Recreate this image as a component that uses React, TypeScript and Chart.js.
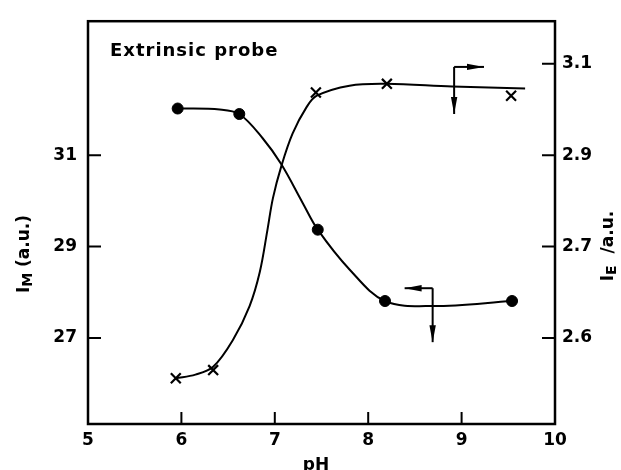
import React, { useEffect, useRef } from "react";
import { Chart, registerables } from "chart.js";

Chart.register(...registerables);

// ---- tick labels ----
const X_TICKS = [5, 6, 7, 8, 9, 10];
const IM_TICKS = [27, 29, 31];
const IE_TICKS = [2.5, 2.7, 2.9, 3.1];
const IE_TICK_LABELS = ["2.6", "2.7", "2.9", "3.1"];

// ---- I_M (filled circles, left axis) ----
const IM_PH = [5.96, 6.62, 7.46, 8.18, 9.54];
const IM_VALUES = [32.02, 31.9, 29.37, 27.81, 27.81];
const IM_FIT_PH = [5.96, 6.41, 6.62, 6.87, 7.07, 7.3, 7.46, 7.8, 8.18, 8.7, 9.54];
const IM_FIT = [32.02, 32.0, 31.9, 31.37, 30.8, 29.95, 29.37, 28.5, 27.81, 27.7, 27.81];

// ---- I_E (crosses, right axis) ----
const IE_PH = [5.94, 6.34, 7.44, 8.2, 9.53];
const IE_VALUES = [2.412, 2.43, 3.037, 3.056, 3.03];
const IE_FIT_PH = [5.94, 6.15, 6.34, 6.55, 6.73, 6.84, 6.92, 6.98, 7.07, 7.19, 7.34, 7.45, 7.8, 8.2, 8.9, 9.68];
const IE_FIT = [2.412, 2.42, 2.437, 2.495, 2.57, 2.645, 2.735, 2.806, 2.876, 2.947, 3.005, 3.03, 3.052, 3.056, 3.05, 3.046];

// ---- axis ranges ----
const X_MIN = 5;
const X_MAX = 10;
const IM_MIN = 25.12;
const IM_MAX = 33.93;
const IE_MIN = 2.312;
const IE_MAX = 3.193;

// ---- indicator arrows (data units) ----
const IM_ARROW = { ph: 8.69, value: 28.09, downTo: 26.91, sideTo: 8.39 };
const IE_ARROW = { ph: 8.92, value: 3.093, downTo: 2.99, sideTo: 9.24 };

const FONT = "DejaVu Sans";

function toXY(xs: number[], ys: number[]) {
  return xs.map((x, i) => ({ x, y: ys[i] }));
}

function arrowHead(ctx: CanvasRenderingContext2D, x1: number, y1: number, x2: number, y2: number) {
  const ang = Math.atan2(y2 - y1, x2 - x1);
  const len = 17;
  const w = 3.2;
  ctx.save();
  ctx.translate(x2, y2);
  ctx.rotate(ang);
  ctx.beginPath();
  ctx.moveTo(0, 0);
  ctx.lineTo(-len, -w);
  ctx.lineTo(-len, w);
  ctx.closePath();
  ctx.fill();
  ctx.restore();
}

function drawArrow(ctx: CanvasRenderingContext2D, x1: number, y1: number, x2: number, y2: number) {
  ctx.beginPath();
  ctx.moveTo(x1, y1);
  ctx.lineTo(x2, y2);
  ctx.stroke();
  arrowHead(ctx, x1, y1, x2, y2);
}

type Part = { t: string; size: number; dy?: number };

function drawParts(ctx: CanvasRenderingContext2D, parts: Part[]) {
  let total = 0;
  const widths = parts.map((p) => {
    ctx.font = `bold ${p.size}px "${FONT}"`;
    const w = ctx.measureText(p.t).width;
    total += w;
    return w;
  });
  let x = -total / 2;
  parts.forEach((p, i) => {
    ctx.font = `bold ${p.size}px "${FONT}"`;
    ctx.fillText(p.t, x, p.dy || 0);
    x += widths[i];
  });
}

const decor = {
  id: "decor",
  afterDraw(chart: any) {
    const { ctx, chartArea: a, scales } = chart;
    const sx = scales.x;
    const sy = scales.y;
    const sy2 = scales.y2;
    ctx.save();
    ctx.strokeStyle = "#000";
    ctx.fillStyle = "#000";
    ctx.lineWidth = 2.5;
    ctx.strokeRect(a.left, a.top, a.right - a.left, a.bottom - a.top);

    // inward tick marks
    ctx.lineWidth = 2;
    ctx.beginPath();
    X_TICKS.forEach((v) => {
      const px = sx.getPixelForValue(v);
      ctx.moveTo(px, a.bottom);
      ctx.lineTo(px, a.bottom - 12);
    });
    IM_TICKS.forEach((v) => {
      const py = sy.getPixelForValue(v);
      ctx.moveTo(a.left, py);
      ctx.lineTo(a.left + 13, py);
    });
    IE_TICKS.forEach((v) => {
      const py = sy2.getPixelForValue(v);
      ctx.moveTo(a.right, py);
      ctx.lineTo(a.right - 13, py);
    });
    ctx.stroke();

    // arrows
    ctx.lineWidth = 2;
    {
      const cx = sx.getPixelForValue(IM_ARROW.ph);
      const cy = sy.getPixelForValue(IM_ARROW.value);
      drawArrow(ctx, cx, cy, cx, sy.getPixelForValue(IM_ARROW.downTo));
      drawArrow(ctx, cx, cy, sx.getPixelForValue(IM_ARROW.sideTo), cy);
    }
    {
      const cx = sx.getPixelForValue(IE_ARROW.ph);
      const cy = sy2.getPixelForValue(IE_ARROW.value);
      drawArrow(ctx, cx, cy, cx, sy2.getPixelForValue(IE_ARROW.downTo));
      drawArrow(ctx, cx, cy, sx.getPixelForValue(IE_ARROW.sideTo), cy);
    }

    // annotation text
    ctx.textBaseline = "alphabetic";
    ctx.textAlign = "left";
    ctx.font = `bold 18px "${FONT}"`;
    try {
      (ctx as any).letterSpacing = "1px";
    } catch (e) {}
    ctx.fillText("Extrinsic probe", a.left + 22, a.top + 35);
    try {
      (ctx as any).letterSpacing = "0px";
    } catch (e) {}

    // axis titles
    ctx.textAlign = "left";
    ctx.save();
    ctx.translate(29, 254);
    ctx.rotate(-Math.PI / 2);
    drawParts(ctx, [
      { t: "I", size: 17 },
      { t: "M", size: 14, dy: 3 },
      { t: " (a.u.)", size: 17 },
    ]);
    ctx.restore();

    ctx.save();
    ctx.translate(613, 246);
    ctx.rotate(-Math.PI / 2);
    drawParts(ctx, [
      { t: "I", size: 17 },
      { t: "E", size: 14, dy: 3 },
      { t: "  /a.u.", size: 17 },
    ]);
    ctx.restore();

    ctx.save();
    ctx.translate(316, 470);
    ctx.textBaseline = "alphabetic";
    drawParts(ctx, [{ t: "pH", size: 17 }]);
    ctx.restore();

    ctx.restore();
  },
};

export default function App() {
  const ref = useRef<HTMLCanvasElement | null>(null);

  useEffect(() => {
    if (!ref.current) return;
    const tickFont = { family: FONT, size: 17, weight: "bold" as const };
    const chart = new Chart(ref.current, {
      type: "line",
      data: {
        datasets: [
          {
            label: "I_M fit",
            data: toXY(IM_FIT_PH, IM_FIT),
            yAxisID: "y",
            borderColor: "#000",
            borderWidth: 2,
            pointRadius: 0,
            tension: 0.35,
            fill: false,
          },
          {
            label: "I_E fit",
            data: toXY(IE_FIT_PH, IE_FIT),
            yAxisID: "y2",
            borderColor: "#000",
            borderWidth: 2,
            pointRadius: 0,
            tension: 0.35,
            fill: false,
          },
          {
            label: "I_M",
            data: toXY(IM_PH, IM_VALUES),
            yAxisID: "y",
            showLine: false,
            pointStyle: "circle",
            pointRadius: 5.5,
            pointBackgroundColor: "#000",
            pointBorderColor: "#000",
            pointBorderWidth: 1,
          },
          {
            label: "I_E",
            data: toXY(IE_PH, IE_VALUES),
            yAxisID: "y2",
            showLine: false,
            pointStyle: "crossRot",
            pointRadius: 7,
            pointBorderColor: "#000",
            pointBorderWidth: 2.2,
          },
        ],
      },
      options: {
        animation: false,
        responsive: true,
        maintainAspectRatio: false,
        layout: { padding: { top: 12, left: 0, right: 0, bottom: 0 } },
        plugins: {
          legend: { display: false },
          tooltip: { enabled: false },
        },
        scales: {
          x: {
            type: "linear",
            min: X_MIN,
            max: X_MAX,
            grid: { display: false, drawTicks: false },
            border: { display: false },
            afterBuildTicks: (s: any) => {
              s.ticks = X_TICKS.map((v) => ({ value: v }));
            },
            afterFit: (s: any) => {
              s.height = 46;
            },
            ticks: {
              color: "#000",
              font: tickFont,
              padding: 6,
              maxRotation: 0,
              callback: (v: any) => String(v),
            },
          },
          y: {
            type: "linear",
            position: "left",
            min: IM_MIN,
            max: IM_MAX,
            grid: { display: false, drawTicks: false },
            border: { display: false },
            afterBuildTicks: (s: any) => {
              s.ticks = IM_TICKS.map((v) => ({ value: v }));
            },
            afterFit: (s: any) => {
              s.width = 88;
            },
            ticks: {
              color: "#000",
              font: tickFont,
              padding: 11,
              callback: (v: any) => String(v),
            },
          },
          y2: {
            type: "linear",
            position: "right",
            min: IE_MIN,
            max: IE_MAX,
            grid: { display: false, drawTicks: false },
            border: { display: false },
            afterBuildTicks: (s: any) => {
              s.ticks = IE_TICKS.map((v) => ({ value: v }));
            },
            afterFit: (s: any) => {
              s.width = 66;
            },
            ticks: {
              color: "#000",
              font: tickFont,
              padding: 7,
              callback: (v: any) => {
                const i = IE_TICKS.findIndex((t) => Math.abs(t - Number(v)) < 1e-6);
                return i >= 0 ? IE_TICK_LABELS[i] : "";
              },
            },
          },
        },
      },
      plugins: [decor],
    });
    return () => chart.destroy();
  }, []);

  return (
    <div style={{ position: "absolute", left: 0, top: 0, width: 621, height: 470, background: "#fff" }}>
      <canvas ref={ref} />
    </div>
  );
}
